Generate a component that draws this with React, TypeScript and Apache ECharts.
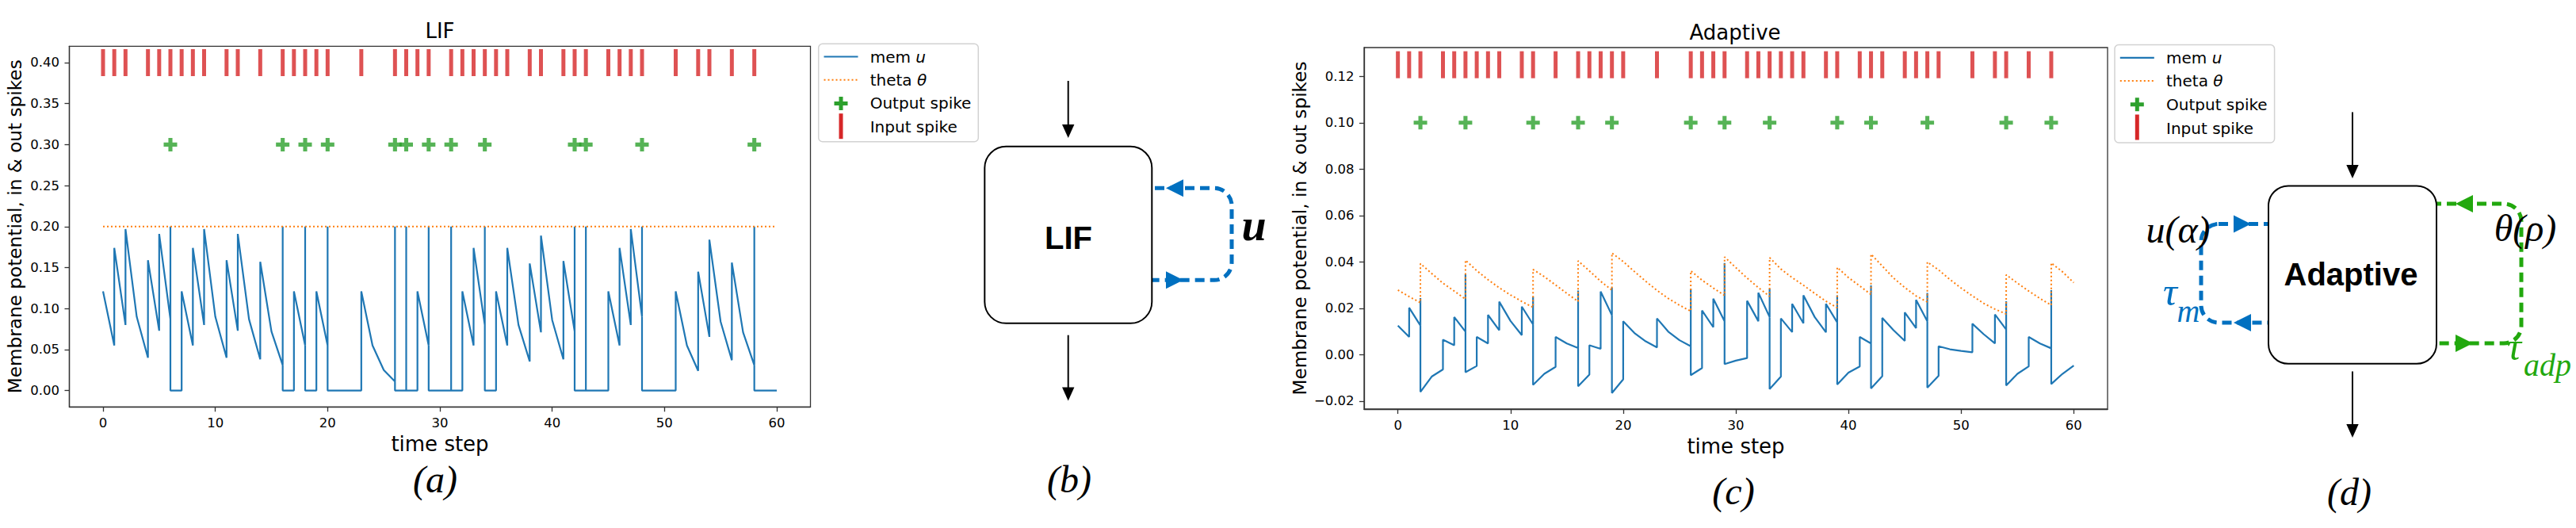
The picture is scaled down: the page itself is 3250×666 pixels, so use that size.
import React, { useEffect, useRef } from "react";
import * as echarts from "echarts";

// ---------------- data ----------------
const timeTicks = [0, 10, 20, 30, 40, 50, 60];
const lifYTicks = [0, 0.05, 0.1, 0.15, 0.2, 0.25, 0.3, 0.35, 0.4];
const adpYTicks = [-0.02, 0, 0.02, 0.04, 0.06, 0.08, 0.1, 0.12];

const inputSpikes = [0, 1, 2, 4, 5, 6, 7, 8, 9, 11, 12, 14, 16, 17, 18, 19, 20, 23, 26, 27, 28, 29, 31, 32, 33, 34, 35, 36, 38, 39, 41, 42, 43, 45, 46, 47, 48, 51, 53, 54, 56, 58];
const lifOutSpikes = [6, 16, 18, 20, 26, 27, 29, 31, 34, 42, 43, 48, 58];
const adpOutSpikes = [2, 6, 12, 16, 19, 26, 29, 33, 39, 42, 47, 54, 58];

const lifThreshold = 0.2;
const lifResetValue = 0;
const lifInputLevel = 0.4;
const lifOutputLevel = 0.3;
const adpInputLevel = 0.125;
const adpOutputLevel = 0.1;

// LIF membrane: value just before step t, and value right after the input at t
const lifPre = [0.121, 0.055, 0.080, 0.090, 0.040, 0.073, 0.087, 0, 0.055, 0.080, 0.090, 0.040, 0.073, 0.087, 0.038, 0.072, 0.031, 0, 0.055, 0, 0.055, 0, 0, 0, 0.055, 0.025, 0.011, 0, 0, 0.055, 0, 0, 0, 0.055, 0.080, 0, 0.055, 0.080, 0.0355, 0.071, 0.086, 0.038, 0.072, 0, 0, 0, 0.055, 0.080, 0.090, 0, 0, 0, 0.055, 0.024, 0.0655, 0.084, 0.037, 0.071, 0.031, 0, 0];
const lifPeak = [0.121, 0.174, 0.197, 0.090, 0.159, 0.191, 0.2, 0.121, 0.174, 0.197, 0.090, 0.159, 0.191, 0.087, 0.157, 0.072, 0.2, 0.121, 0.2, 0.121, 0.2, 0, 0, 0.121, 0.055, 0.025, 0.2, 0.2, 0.121, 0.2, 0, 0.2, 0.121, 0.174, 0.2, 0.121, 0.174, 0.080, 0.155, 0.189, 0.086, 0.158, 0.2, 0.2, 0, 0.121, 0.174, 0.197, 0.2, 0, 0, 0.121, 0.055, 0.145, 0.184, 0.084, 0.156, 0.071, 0.2, 0, 0];

// Adaptive membrane
const adpPre = [0.0125, 0.0076, 0.0125, -0.0095, -0.0064, 0.0040, 0.0099, -0.0049, 0.0048, 0.0105, 0.0145, 0.0084, 0.0130, -0.0083, -0.0053, 0.0048, 0.0028, -0.0086, 0.0025, 0.0170, -0.0107, 0.0093, 0.0057, 0.0031, 0.0099, 0.0062, 0.0036, -0.0058, 0.0118, 0.0144, -0.0026, -0.0015, 0.0144, 0.0162, -0.0095, 0.0097, 0.0135, 0.0162, 0.0096, 0.0139, -0.0078, -0.0051, 0.0048, -0.0093, 0.0105, 0.0059, 0.0114, 0.0144, -0.0091, 0.0023, 0.0016, 0.0010, 0.0088, 0.0048, 0.0108, -0.0083, -0.0051, 0.0048, 0.0027, -0.0083, -0.0047];
const adpPeak = [0.0125, 0.0202, 0.0244, -0.0095, 0.0064, 0.0162, 0.0346, 0.0076, 0.0171, 0.0228, 0.0145, 0.0207, 0.0250, -0.0083, 0.0076, 0.0048, 0.0276, 0.0040, 0.0272, 0.0289, 0.0144, 0.0093, 0.0057, 0.0156, 0.0099, 0.0062, 0.0285, 0.0190, 0.0241, 0.0395, -0.0026, 0.0232, 0.0267, 0.0284, 0.0156, 0.0219, 0.0256, 0.0162, 0.0219, 0.0256, -0.0078, 0.0076, 0.0298, 0.0158, 0.0105, 0.0182, 0.0236, 0.0266, 0.0036, 0.0023, 0.0016, 0.0133, 0.0088, 0.0173, 0.0230, -0.0083, 0.0076, 0.0048, 0.0278, -0.0083, -0.0047];
const adpReset = [-0.0161, -0.0076, -0.0131, -0.0137, -0.0166, -0.0089, -0.0041, -0.0149, -0.0129, -0.0146, -0.0143, -0.0133, -0.0127];

// Adaptive threshold: value before step t, and value after jump at output spikes
const adpThetaPre = [0.0278, 0.0250, 0.0224, 0.0350, 0.0308, 0.0274, 0.0239, 0.0362, 0.0323, 0.0288, 0.0257, 0.0229, 0.0204, 0.0336, 0.0300, 0.0264, 0.0229, 0.0361, 0.0316, 0.0278, 0.0401, 0.0358, 0.0316, 0.0277, 0.0242, 0.0213, 0.0187, 0.0321, 0.0287, 0.0255, 0.0375, 0.0330, 0.0289, 0.0251, 0.0369, 0.0332, 0.0299, 0.0264, 0.0230, 0.0202, 0.0332, 0.0296, 0.0259, 0.0382, 0.0330, 0.0289, 0.0253, 0.0227, 0.0365, 0.0324, 0.0287, 0.0253, 0.0221, 0.0196, 0.0175, 0.0308, 0.0274, 0.0242, 0.0213, 0.0357, 0.0310];
const adpThetaJump = [0.0392, 0.0407, 0.0367, 0.0404, 0.0438, 0.0361, 0.0421, 0.0418, 0.0376, 0.0433, 0.0399, 0.0344, 0.0395];

const legendLabels = ["mem", "theta", "Output spike", "Input spike"];

// ---------------- helpers ----------------
function buildTrace(pre: number[], peak: number[], outs: number[], resets: number[]) {
  const pts: number[][] = [];
  for (let t = 0; t < pre.length; t++) {
    pts.push([t, pre[t]]);
    if (peak[t] !== pre[t]) pts.push([t, peak[t]]);
    const k = outs.indexOf(t);
    if (k >= 0) pts.push([t, resets[k]]);
  }
  return pts;
}

const C_MEM = "#1f77b4";
const C_THETA = "#ff7f0e";
const C_OUT = "#2ca02c";
const C_IN = "#d62728";
const C_LOOP_BLUE = "#0070c0";
const C_LOOP_GREEN = "#22a80e";
const SANS = "DejaVu Sans";
const SERIF = "Liberation Serif";
const PLUS = "path://M-1.5,-5L1.5,-5L1.5,-1.5L5,-1.5L5,1.5L1.5,1.5L1.5,5L-1.5,5L-1.5,1.5L-5,1.5L-5,-1.5L-1.5,-1.5Z";

function fmt(v: number) {
  return v.toFixed(2).replace("-", "\u2212");
}

function mkX(gi: number) {
  return {
    type: "value",
    gridIndex: gi,
    min: -3,
    max: 63,
    splitLine: { show: false },
    axisLine: { show: true, onZero: false, lineStyle: { color: "#333", width: 1.3 } },
    axisTick: { show: true, customValues: timeTicks, length: 6, lineStyle: { color: "#333", width: 1.3 } },
    axisLabel: { customValues: timeTicks, fontSize: 16.5, color: "#000", fontFamily: SANS, margin: 20.4, verticalAlign: "middle" },
    name: "time step",
    nameLocation: "middle",
    nameGap: 46.7,
    nameTextStyle: { fontSize: 26, color: "#000", fontFamily: SANS, verticalAlign: "middle" },
  };
}

function mkY(gi: number, min: number, max: number, ticks: number[], gap: number) {
  return {
    type: "value",
    gridIndex: gi,
    min,
    max,
    splitLine: { show: false },
    axisLine: { show: true, onZero: false, lineStyle: { color: "#333", width: 1.3 } },
    axisTick: { show: true, customValues: ticks, length: 6, lineStyle: { color: "#333", width: 1.3 } },
    axisLabel: { customValues: ticks, fontSize: 16.5, color: "#000", fontFamily: SANS, margin: 12.5, formatter: (v: number) => fmt(v) },
    name: "Membrane potential, in & out spikes",
    nameLocation: "middle",
    nameGap: gap,
    nameTextStyle: { fontSize: 23.2, color: "#000", fontFamily: SANS, verticalAlign: "middle" },
  };
}

function seriesFor(gi: number, mem: number[][], theta: number[][], outs: number[], outLevel: number, inLevel: number) {
  return [
    { type: "line", xAxisIndex: gi, yAxisIndex: gi, data: mem, symbol: "none", showSymbol: false, lineStyle: { color: C_MEM, width: 2.2 }, z: 2, silent: true },
    { type: "line", xAxisIndex: gi, yAxisIndex: gi, data: theta, symbol: "none", showSymbol: false, lineStyle: { color: C_THETA, width: 2, type: [2, 3] }, z: 3, silent: true },
    { type: "scatter", xAxisIndex: gi, yAxisIndex: gi, data: outs.map((t) => [t, outLevel]), symbol: PLUS, symbolSize: 17, itemStyle: { color: C_OUT }, z: 4, silent: true },
    { type: "scatter", xAxisIndex: gi, yAxisIndex: gi, data: inputSpikes.map((t) => [t, inLevel]), symbol: "rect", symbolSize: [5, 34], itemStyle: { color: C_IN }, z: 5, silent: true },
  ];
}

function txt(x: number, y: number, text: string, o: any) {
  return {
    type: "text",
    x,
    y,
    z: 20,
    silent: true,
    style: { text, fill: o.fill || "#000", fontSize: o.size, fontFamily: o.family || SANS, fontStyle: o.italic ? "italic" : "normal", fontWeight: o.bold ? "bold" : "normal", align: o.align || "center", verticalAlign: "middle", rich: o.rich },
  };
}

function plusPoly(cx: number, cy: number, a: number, b: number) {
  return [
    [cx - b, cy - a], [cx + b, cy - a], [cx + b, cy - b], [cx + a, cy - b], [cx + a, cy + b], [cx + b, cy + b],
    [cx + b, cy + a], [cx - b, cy + a], [cx - b, cy + b], [cx - a, cy + b], [cx - a, cy - b], [cx - b, cy - b],
  ];
}

function legendEls(ox: number, oy: number) {
  const rows = [16.3, 45.6, 75.2, 105];
  const hx = ox + 28.3;
  const tx = ox + 65;
  return [
    { type: "rect", z: 10, silent: true, shape: { x: ox, y: oy, width: 201.6, height: 123.5, r: 5 }, style: { fill: "rgba(255,255,255,0.85)", stroke: "#d2d2d2", lineWidth: 1.5 } },
    { type: "line", z: 11, silent: true, shape: { x1: hx - 21.5, y1: oy + rows[0], x2: hx + 21.5, y2: oy + rows[0] }, style: { stroke: C_MEM, lineWidth: 2.2 } },
    { type: "line", z: 11, silent: true, shape: { x1: hx - 21.5, y1: oy + rows[1], x2: hx + 21.5, y2: oy + rows[1] }, style: { stroke: C_THETA, lineWidth: 2, lineDash: [2, 3] } },
    { type: "polygon", z: 11, silent: true, shape: { points: plusPoly(hx, oy + rows[2], 8.5, 2.5) }, style: { fill: C_OUT } },
    { type: "rect", z: 11, silent: true, shape: { x: hx - 2.5, y: oy + 88, width: 5, height: 32 }, style: { fill: C_IN } },
    txt(tx, oy + rows[0], legendLabels[0] + " {i|u}", { size: 20, align: "left", rich: { i: { fontSize: 20, fontFamily: SANS, fontStyle: "italic" } } }),
    txt(tx, oy + rows[1], legendLabels[1] + " {i|\u03b8}", { size: 20, align: "left", rich: { i: { fontSize: 20, fontFamily: SANS, fontStyle: "italic" } } }),
    txt(tx, oy + rows[2], legendLabels[2], { size: 20, align: "left" }),
    txt(tx, oy + rows[3], legendLabels[3], { size: 20, align: "left" }),
  ];
}

function arrowDown(x: number, y1: number, tip: number) {
  return [
    { type: "line", z: 5, silent: true, shape: { x1: x, y1, x2: x, y2: tip - 14 }, style: { stroke: "#000", lineWidth: 2 } },
    { type: "polygon", z: 5, silent: true, shape: { points: [[x - 7.7, tip - 17], [x + 7.7, tip - 17], [x, tip]] }, style: { fill: "#000" } },
  ];
}

function headH(tipX: number, y: number, dir: number, color: string) {
  // dir = -1 points left, +1 points right
  const base = tipX - dir * 22;
  return { type: "polygon", z: 6, silent: true, shape: { points: [[tipX, y], [base, y - 11], [base, y + 11]] }, style: { fill: color } };
}

function diagramEls() {
  const els: any[] = [];
  // (b) LIF
  els.push(...arrowDown(1347.7, 102, 174));
  els.push(...arrowDown(1347.7, 422.7, 505.5));
  els.push({ type: "rect", z: 1, silent: true, shape: { x: 1400, y: 237.3, width: 154, height: 116, r: [0, 22, 22, 0] }, style: { fill: "none", stroke: C_LOOP_BLUE, lineWidth: 5, lineDash: [12, 7] } });
  els.push({ type: "rect", z: 3, silent: true, shape: { x: 1242.3, y: 184.8, width: 211, height: 223, r: 27 }, style: { fill: "#fff", stroke: "#000", lineWidth: 2 } });
  els.push(headH(1471, 237.3, -1, C_LOOP_BLUE));
  els.push(headH(1493, 353.3, 1, C_LOOP_BLUE));
  els.push(txt(1348, 300, "LIF", { size: 40, bold: true, family: "Liberation Sans" }));
  els.push(txt(1582, 284, "u", { size: 56, italic: true, bold: true, family: SERIF }));

  // (d) Adaptive
  els.push(...arrowDown(2968, 141.5, 225));
  els.push(...arrowDown(2968, 468.6, 552));
  els.push({ type: "rect", z: 1, silent: true, shape: { x: 2777, y: 282.5, width: 120, height: 124.5, r: [22, 0, 0, 22] }, style: { fill: "none", stroke: C_LOOP_BLUE, lineWidth: 5, lineDash: [12, 7] } });
  els.push({ type: "rect", z: 1, silent: true, shape: { x: 3030, y: 257, width: 151, height: 176, r: [0, 22, 22, 0] }, style: { fill: "none", stroke: C_LOOP_GREEN, lineWidth: 5, lineDash: [12, 7] } });
  els.push({ type: "rect", z: 3, silent: true, shape: { x: 2862, y: 234.5, width: 212, height: 224.3, r: 25 }, style: { fill: "#fff", stroke: "#000", lineWidth: 2 } });
  els.push(headH(2840, 282.5, 1, C_LOOP_BLUE));
  els.push(headH(2818, 407, -1, C_LOOP_BLUE));
  els.push(headH(3098, 257, -1, C_LOOP_GREEN));
  els.push(headH(3120, 433, 1, C_LOOP_GREEN));
  els.push(txt(2966, 346, "Adaptive", { size: 40, bold: true, family: "Liberation Sans" }));
  els.push(txt(2748, 289, "u(\u03b1)", { size: 48, italic: true, family: SERIF }));
  els.push(txt(3186, 287, "\u03b8(\u03c1)", { size: 48, italic: true, family: SERIF }));
  els.push(txt(2738, 368, "\u03c4", { size: 50, italic: true, family: SERIF, fill: C_LOOP_BLUE }));
  els.push(txt(2761, 392, "m", { size: 40, italic: true, family: SERIF, fill: C_LOOP_BLUE }));
  els.push(txt(3172, 437, "\u03c4", { size: 50, italic: true, family: SERIF, fill: C_LOOP_GREEN }));
  els.push(txt(3184, 460, "adp", { size: 40, italic: true, family: SERIF, fill: C_LOOP_GREEN, align: "left" }));

  // panel captions and titles
  els.push(txt(549, 604.4, "(a)", { size: 48, italic: true, family: SERIF }));
  els.push(txt(1349, 604.4, "(b)", { size: 48, italic: true, family: SERIF }));
  els.push(txt(2187, 619.4, "(c)", { size: 48, italic: true, family: SERIF }));
  els.push(txt(2964, 620.4, "(d)", { size: 48, italic: true, family: SERIF }));
  els.push(txt(555, 39.3, "LIF", { size: 26 }));
  els.push(txt(2189, 41, "Adaptive", { size: 26 }));
  return els;
}

function buildOption() {
  const lifMem = buildTrace(lifPre, lifPeak, lifOutSpikes, lifOutSpikes.map(() => lifResetValue));
  const lifTheta = [[timeTicks[0], lifThreshold], [timeTicks[timeTicks.length - 1], lifThreshold]];
  const adpMem = buildTrace(adpPre, adpPeak, adpOutSpikes, adpReset);
  const adpTheta = buildTrace(adpThetaPre, adpThetaPre, adpOutSpikes, adpThetaJump);

  return {
    animation: false,
    backgroundColor: "#fff",
    textStyle: { fontFamily: SANS },
    grid: [
      { left: 87.5, top: 58.3, width: 935, height: 455, show: true, borderColor: "#333", borderWidth: 1.3, backgroundColor: "transparent" },
      { left: 1721, top: 60, width: 938, height: 456, show: true, borderColor: "#333", borderWidth: 1.3, backgroundColor: "transparent" },
    ],
    xAxis: [mkX(0), mkX(1)],
    yAxis: [mkY(0, -0.02, 0.42, lifYTicks, 69.3), mkY(1, -0.0235, 0.1324, adpYTicks, 82)],
    series: [
      ...seriesFor(0, lifMem, lifTheta, lifOutSpikes, lifOutputLevel, lifInputLevel),
      ...seriesFor(1, adpMem, adpTheta, adpOutSpikes, adpOutputLevel, adpInputLevel),
    ],
    graphic: { elements: [...legendEls(1032.7, 55.2), ...legendEls(2668, 56.5), ...diagramEls()] },
  };
}

export default function App() {
  const ref = useRef<HTMLDivElement>(null);
  useEffect(() => {
    const chart = echarts.init(ref.current!, null, { renderer: "svg" });
    chart.setOption(buildOption() as any);
    return () => chart.dispose();
  }, []);
  return <div ref={ref} style={{ position: "fixed", left: 0, top: 0, width: 3250, height: 666, background: "#fff" }} />;
}
